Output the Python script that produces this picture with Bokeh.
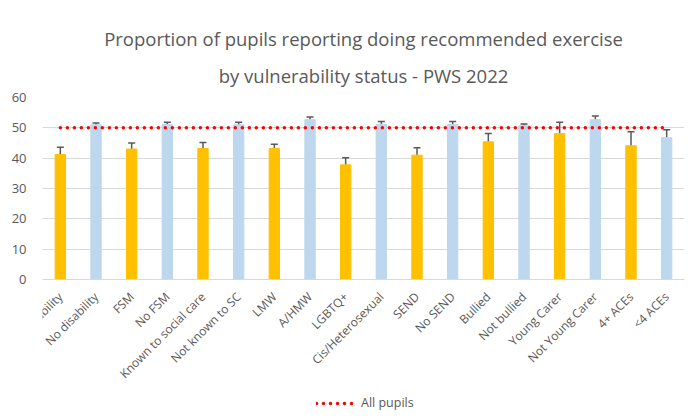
import math
from bokeh.plotting import figure
from bokeh.models import ColumnDataSource, Whisker, TeeHead, Legend, LegendItem, Title, FixedTicker
from bokeh.embed import file_html
from bokeh.resources import INLINE

categories = ["Disability", "No disability", "FSM", "No FSM", "Known to social care",
              "Not known to SC", "LMW", "A/HMW", "LGBTQ+", "Cis/Heterosexual", "SEND",
              "No SEND", "Bullied", "Not bullied", "Young Carer", "Not Young Carer",
              "4+ ACEs", "<4 ACEs"]
values = [41.2, 51.0, 43.0, 51.1, 43.2, 51.0, 43.2, 52.7, 37.8, 51.1, 41.0,
          51.1, 45.4, 50.7, 48.1, 52.7, 44.1, 46.8]
lower = [38.9, 50.2, 41.2, 50.3, 41.2, 50.3, 42.0, 52.0, 35.8, 50.4, 39.2,
         50.4, 43.2, 50.2, 44.4, 51.7, 40.1, 44.4]
upper = [43.6, 51.6, 45.0, 51.8, 45.2, 51.8, 44.6, 53.6, 40.1, 52.1, 43.4,
         52.1, 48.1, 51.3, 51.8, 53.9, 48.7, 49.4]
bar_colors = ["#FFC000", "#BDD7EE"] * 9
all_pupils = [50, 50]
all_pupils_x = [categories[0], categories[-1]]
y_ticks = [0, 10, 20, 30, 40, 50, 60]
title_lines = ["Proportion of pupils reporting doing recommended exercise",
               "by vulnerability status - PWS 2022"]

# layout (pixels): value axis 0..60 spans 182 px; extra room below for category labels and legend
PX_PER_UNIT = 182 / 60
FRAME_H = 321
Y_START = 60 - FRAME_H / PX_PER_UNIT

src = ColumnDataSource(dict(cat=categories, val=values, lo=lower, up=upper, color=bar_colors))

p = figure(frame_width=642, frame_height=FRAME_H, x_range=categories, y_range=(Y_START, 60),
           output_backend="svg", toolbar_location=None,
           min_border_left=42, min_border_right=8, min_border_top=97, min_border_bottom=0)
p.title = None
for t, so in zip(reversed(title_lines), [19, 2]):
    p.add_layout(Title(text=t, align="center", text_font="Open Sans", text_font_size="18.5px",
                       text_font_style="normal", text_color="#595959", offset=-13,
                       standoff=so), "above")

p.vbar(x="cat", top="val", width=0.29, color="color", source=src)

w = Whisker(source=src, base="cat", lower="lo", upper="up", line_color="#595959", line_width=1.5,
            upper_head=TeeHead(size=7, line_color="#595959", line_width=1.5),
            lower_head=TeeHead(size=7, line_color="#595959", line_width=1.5))
p.add_layout(w)

r = p.line(x=all_pupils_x, y=all_pupils, line_color="#FF0000", line_width=3.5,
           line_dash="0 7", line_cap="round")

legend = Legend(items=[LegendItem(label="All pupils", renderers=[r])], orientation="horizontal",
                location=(273, 6), border_line_alpha=0, background_fill_alpha=0,
                label_text_color="#595959", label_text_font="Open Sans", label_text_font_size="12.5px",
                glyph_width=40, glyph_height=14, label_height=14, padding=1, margin=0,
                label_standoff=5)
p.add_layout(legend, "center")

p.yaxis.ticker = FixedTicker(ticks=y_ticks)
p.yaxis.axis_line_color = None
p.yaxis.major_tick_line_color = None
p.yaxis.minor_tick_line_color = None
p.yaxis.major_label_text_color = "#595959"
p.yaxis.major_label_text_font = "Open Sans"
p.yaxis.major_label_text_font_size = "13px"
p.yaxis.major_label_standoff = 10

# category axis drawn at value 0
p.xaxis.fixed_location = 0
p.xaxis.axis_line_color = "#D9D9D9"
p.xaxis.major_tick_line_color = None
p.xaxis.minor_tick_line_color = None
p.xaxis.major_label_orientation = math.pi / 4
p.xaxis.major_label_text_color = "#595959"
p.xaxis.major_label_text_font = "Open Sans"
p.xaxis.major_label_text_font_size = "12px"
p.xaxis.major_label_standoff = 9

p.xgrid.grid_line_color = None
p.ygrid.grid_line_color = "#D9D9D9"
p.outline_line_color = None
p.x_range.range_padding = 0

open("out.html", "w").write(file_html(p, INLINE))
